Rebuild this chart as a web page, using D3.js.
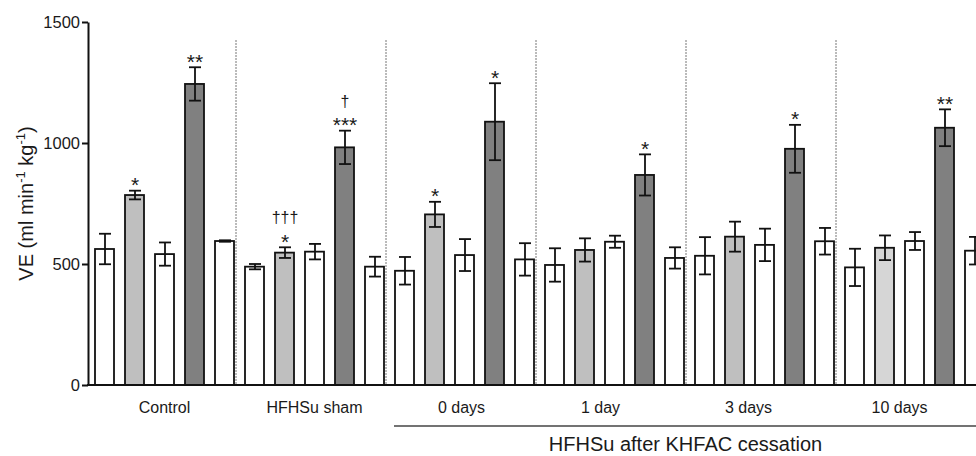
<!DOCTYPE html>
<html lang="en">
  <head>
    <meta charset="utf-8" />
    <title>VE by group</title>
    <script src="https://d3js.org/d3.v7.min.js"></script>
    <style>
      body { margin: 0; background: #fff; }
      svg text { font-family: "Liberation Sans", Arial, Helvetica, sans-serif; fill: #1a1a1a; }
    </style>
  </head>
  <body>
    <div id="my_dataviz"></div>
  <script>
      // data
      const groups = ["Control", "HFHSu sham", "0 days", "1 day", "3 days", "10 days"];
      const periods = ["period 1", "period 2", "period 3", "period 4", "period 5"];
      const veMean = [
        [562, 785, 541, 1244, 595],
        [489, 547, 551, 982, 489],
        [472, 705, 537, 1088, 519],
        [496, 558, 592, 868, 525],
        [534, 613, 579, 976, 594],
        [486, 567, 595, 1063, 555]
      ];
      const veSem = [
        [63, 18, 48, 69, 3],
        [11, 22, 32, 69, 41],
        [57, 52, 66, 159, 67],
        [69, 48, 25, 85, 44],
        [77, 62, 67, 99, 55],
        [77, 51, 37, 76, 57]
      ];
      const stars = [
        ["", "*", "", "**", ""],
        ["", "*", "", "***", ""],
        ["", "*", "", "*", ""],
        ["", "", "", "*", ""],
        ["", "", "", "*", ""],
        ["", "", "", "**", ""]
      ];
      const daggers = [
        ["", "", "", "", ""],
        ["", "\u2020\u2020\u2020", "", "\u2020", ""],
        ["", "", "", "", ""],
        ["", "", "", "", ""],
        ["", "", "", "", ""],
        ["", "", "", "", ""]
      ];
      const yTicks = [0, 500, 1000, 1500];
      const bracketGroups = ["0 days", "1 day", "3 days", "10 days"];
      const bracketLabel = "HFHSu after KHFAC cessation";

      // layout
      const W = 976, H = 456;
      const margin = {top: 22, left: 88, bottom: 71};
      const labelNudge = [0, 0, -3, -14, -16, -15];
      const fills = ["#ffffff", "#bfbfbf", "#ffffff", "#808080", "#ffffff"];

      const rows = [];
      groups.forEach(function (g, gi) {
        periods.forEach(function (p, pi) {
          rows.push({group: g, gi: gi, pi: pi, key: g + "|" + p,
            mean: veMean[gi][pi], sem: veSem[gi][pi],
            star: stars[gi][pi], dagger: daggers[gi][pi]});
        });
      });

      const svg = d3.select("#my_dataviz")
        .append("svg")
          .attr("width", W)
          .attr("height", H);

      // scales
      const x = d3.scaleBand()
        .domain(rows.map(function (d) { return d.key; }))
        .range([89.5, 989.5])
        .paddingInner(1 / 3)
        .paddingOuter(1 / 6);
      const gx = d3.scaleBand()
        .domain(groups)
        .range([89.5, 989.5]);
      const y = d3.scaleLinear()
        .domain([0, 1500])
        .range([H - margin.bottom, margin.top]);
      const bw = x.bandwidth();

      // group separators
      svg.append("g")
        .selectAll("line")
        .data(groups.slice(0, 5))
        .join("line")
          .attr("x1", function (g) { return x(g + "|" + periods[4]) + bw + 1.5; })
          .attr("x2", function (g) { return x(g + "|" + periods[4]) + bw + 1.5; })
          .attr("y1", 40)
          .attr("y2", y(0))
          .attr("stroke", "#777")
          .attr("stroke-width", 1)
          .attr("stroke-dasharray", "2,1");

      // bars
      svg.append("g")
        .selectAll("rect")
        .data(rows)
        .join("rect")
          .attr("x", function (d) { return x(d.key) + 0.5; })
          .attr("y", function (d) { return y(d.mean); })
          .attr("width", bw - 1)
          .attr("height", function (d) { return y(0) - y(d.mean); })
          .attr("fill", function (d) {
            if (d.pi === 1 && d.group === "10 days") return "#d6d6d6";
            return fills[d.pi];
          })
          .attr("stroke", "#111")
          .attr("stroke-width", 1.8);

      // error bars
      const eb = svg.append("g")
        .attr("stroke", "#111")
        .attr("stroke-width", 1.8)
        .selectAll("g")
        .data(rows)
        .join("g")
          .attr("transform", function (d) { return `translate(${x(d.key) + bw / 2 + 0.5},0)`; });
      eb.append("line")
        .attr("y1", function (d) { return y(d.mean - d.sem); })
        .attr("y2", function (d) { return y(d.mean + d.sem); });
      eb.append("line")
        .attr("x1", -6).attr("x2", 6)
        .attr("y1", function (d) { return y(d.mean + d.sem); })
        .attr("y2", function (d) { return y(d.mean + d.sem); });
      eb.append("line")
        .attr("x1", -6).attr("x2", 6)
        .attr("y1", function (d) { return y(d.mean - d.sem); })
        .attr("y2", function (d) { return y(d.mean - d.sem); });

      // significance marks
      svg.append("g")
        .selectAll("text")
        .data(rows.filter(function (d) { return d.star; }))
        .join("text")
          .attr("x", function (d) { return x(d.key) + bw / 2 + 0.5; })
          .attr("y", function (d) { return y(d.mean + d.sem) + 1.5; })
          .attr("text-anchor", "middle")
          .style("font-size", "21px")
          .text(function (d) { return d.star; });
      svg.append("g")
        .selectAll("text")
        .data(rows.filter(function (d) { return d.dagger; }))
        .join("text")
          .attr("x", function (d) { return x(d.key) + bw / 2 + 0.5; })
          .attr("y", function (d) { return y(d.mean + d.sem) - 24; })
          .attr("text-anchor", "middle")
          .style("font-size", "16px")
          .text(function (d) { return d.dagger; });

      // Y axis
      const yAxis = svg.append("g")
        .attr("transform", `translate(${margin.left},0)`)
        .call(d3.axisLeft(y).tickValues(yTicks).tickFormat(d3.format("d"))
          .tickSize(6).tickSizeOuter(0).tickPadding(2));
      yAxis.select(".domain").attr("stroke", "#111").attr("stroke-width", 2);
      yAxis.selectAll(".tick line").attr("stroke", "#111").attr("stroke-width", 2);
      yAxis.selectAll(".tick text").style("font-size", "16.5px").attr("fill", "#1a1a1a");

      // Y axis label
      const ylab = svg.append("text")
        .attr("transform", `translate(33, ${(y(0) + y(1500)) / 2}) rotate(-90)`)
        .attr("text-anchor", "middle")
        .style("font-size", "20px");
      ylab.append("tspan").text("VE (ml min");
      ylab.append("tspan").attr("dy", -8).style("font-size", "13px").text("-1");
      ylab.append("tspan").attr("dy", 8).text(" kg");
      ylab.append("tspan").attr("dy", -8).style("font-size", "13px").text("-1");
      ylab.append("tspan").attr("dy", 8).text(")");

      // X axis
      const xAxis = svg.append("g")
        .attr("transform", `translate(0,${y(0)})`)
        .call(d3.axisBottom(gx).tickSize(0).tickPadding(17));
      xAxis.select(".domain").remove();
      xAxis.selectAll(".tick text")
        .style("font-size", "16px")
        .attr("fill", "#1a1a1a")
        .attr("dx", function (g, i) { return labelNudge[i]; });
      svg.append("line")
        .attr("x1", margin.left - 1)
        .attr("x2", W)
        .attr("y1", y(0))
        .attr("y2", y(0))
        .attr("stroke", "#111")
        .attr("stroke-width", 2);

      // bracket for post-cessation groups
      svg.append("line")
        .attr("x1", x(bracketGroups[0] + "|" + periods[0]) - 0.5)
        .attr("x2", W)
        .attr("y1", 426)
        .attr("y2", 426)
        .attr("stroke", "#444")
        .attr("stroke-width", 1.5);
      svg.append("text")
        .attr("x", gx(bracketGroups[2]) - 4)
        .attr("y", 451)
        .attr("text-anchor", "middle")
        .style("font-size", "20px")
        .text(bracketLabel);
  </script>
  </body>
</html>
